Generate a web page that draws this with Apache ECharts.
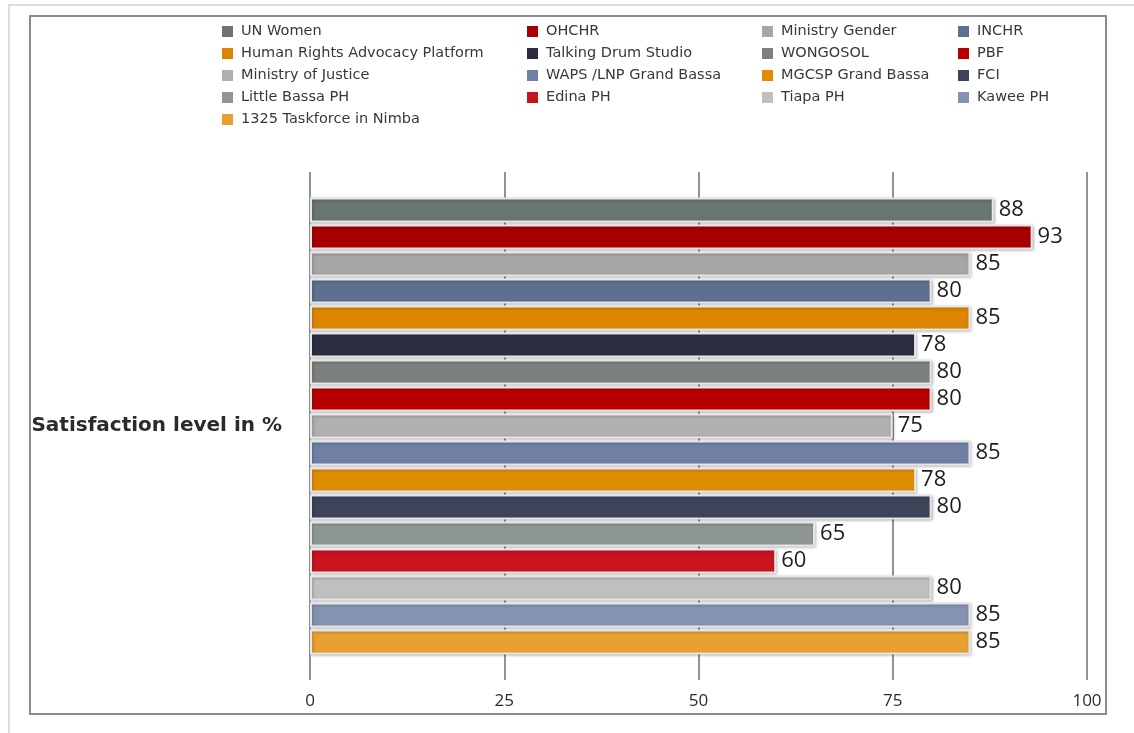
<!DOCTYPE html>
<html>
<head>
<meta charset="utf-8">
<script src="https://cdn.jsdelivr.net/npm/echarts@6/dist/echarts.min.js"></script>
<style>
  html, body { margin: 0; padding: 0; background: #fff; }
  #chart { width: 1134px; height: 733px; }
</style>
</head>
<body>
<div id="chart"></div>
<script>
  // data
  const categories = ['Satisfaction level in %'];
  const names = [
    'UN Women', 'OHCHR', 'Ministry Gender', 'INCHR',
    'Human Rights Advocacy Platform', 'Talking Drum Studio', 'WONGOSOL', 'PBF',
    'Ministry of Justice', 'WAPS /LNP Grand Bassa', 'MGCSP Grand Bassa', 'FCI',
    'Little Bassa PH', 'Edina PH', 'Tiapa PH', 'Kawee PH',
    '1325 Taskforce in Nimba'
  ];
  const values = [88, 93, 85, 80, 85, 78, 80, 80, 75, 85, 78, 80, 65, 60, 80, 85, 85];
  const colors = [
    '#6b7570', '#a80000', '#a6a6a6', '#5f6f90',
    '#dc8500', '#2b2e42', '#7a807d', '#b80000',
    '#b0b0b0', '#7080a5', '#e08e00', '#3d4459',
    '#8e9792', '#c8141e', '#bfbfbf', '#8592b2',
    '#e8a030'
  ];
  const xTicks = [0, 25, 50, 75, 100];

  const chart = echarts.init(document.getElementById('chart'));

  // four legend columns, filled row by row like the original
  const legendX = [217, 522, 757, 953];
  const legends = legendX.map((x, col) => ({
    orient: 'vertical',
    left: x,
    top: 19,
    itemWidth: 11,
    itemHeight: 11,
    itemGap: 7,
    icon: 'rect',
    selectedMode: false,
    itemStyle: { borderWidth: 0, shadowBlur: 0 },
    textStyle: { fontFamily: 'DejaVu Sans', fontSize: 14.5, lineHeight: 13, color: '#383838', padding: [0, 0, 0, 3] },
    data: names.filter((n, i) => i % 4 === col)
  }));

  const series = names.map((n, i) => ({
    name: n,
    type: 'bar',
    barWidth: 25,
    barGap: '8%',
    data: [values[i]],
    itemStyle: {
      color: colors[i],
      borderColor: '#e6e6e6',
      borderWidth: 2,
      shadowColor: 'rgba(0,0,0,0.25)',
      shadowBlur: 3,
      shadowOffsetX: 1,
      shadowOffsetY: 1
    },
    label: {
      show: true,
      position: 'right',
      distance: 5,
      fontFamily: 'Open Sans',
      fontSize: 22,
      color: '#1e1e1e'
    }
  }));

  const option = {
    animation: false,
    color: colors,
    legend: legends,
    grid: { left: 310, right: 47, top: 172, bottom: 53, containLabel: false },
    graphic: [
      { type: 'rect', shape: { x: 9, y: 5, width: 1140, height: 740 }, style: { fill: 'none', stroke: '#dddddd', lineWidth: 2 }, silent: true },
      { type: 'rect', shape: { x: 30, y: 16, width: 1076, height: 698 }, style: { fill: 'none', stroke: '#8c8c8c', lineWidth: 2 }, silent: true }
    ],
    xAxis: {
      type: 'value',
      min: xTicks[0],
      max: xTicks[xTicks.length - 1],
      interval: 25,
      axisLine: { show: false },
      axisTick: { show: false },
      splitLine: { show: true, lineStyle: { color: '#6e6e6e', width: 1.5 } },
      axisLabel: { fontFamily: 'Open Sans', fontSize: 17, color: '#2b2b2b', margin: 13 }
    },
    yAxis: {
      type: 'category',
      inverse: true,
      data: categories,
      axisLine: { show: false },
      axisTick: { show: false },
      axisLabel: { fontFamily: 'DejaVu Sans', fontWeight: 'bold', fontSize: 20, color: '#2b2b2b', margin: 28 }
    },
    series: series
  };

  chart.setOption(option);
</script>
</body>
</html>
